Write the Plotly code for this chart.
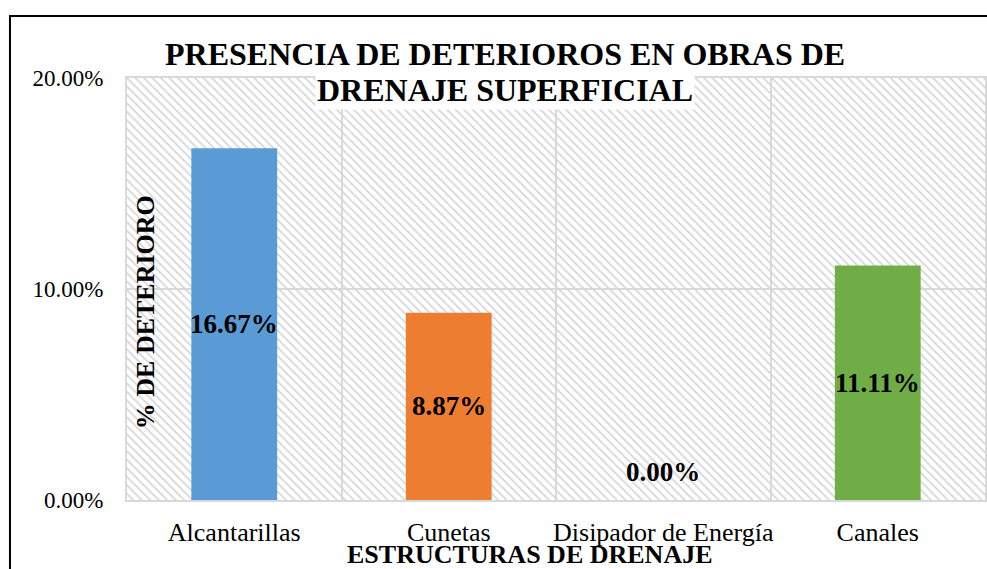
import plotly.graph_objects as go

# ---- data ----
categories = ["Alcantarillas", "Cunetas", "Disipador de Energía", "Canales"]
values = [0.1667, 0.0887, 0.0, 0.1111]
bar_colors = ["#5B9BD5", "#ED7D31", "#A5A5A5", "#70AD47"]
y_max = 0.20
title_lines = ["PRESENCIA DE DETERIOROS EN OBRAS DE", "DRENAJE SUPERFICIAL"]
x_title = "ESTRUCTURAS DE DRENAJE"
y_title = "% DE DETERIORO"

FONT = "Liberation Serif, Times New Roman, serif"
GRID = "#d9d9d9"

fig = go.Figure()

# hatched plot-area background
fig.add_trace(go.Bar(
    x=categories, y=[y_max] * len(categories), width=1.0,
    marker=dict(color="rgba(0,0,0,0)", line=dict(width=0),
                pattern=dict(shape="\\", fgcolor="#d6d6d6", bgcolor="rgba(0,0,0,0)",
                             size=6, solidity=0.3, fillmode="replace")),
    hoverinfo="skip", showlegend=False,
))

# data bars
fig.add_trace(go.Bar(
    x=categories, y=values, width=0.4,
    marker=dict(color=bar_colors, line=dict(width=0)),
    hoverinfo="skip", showlegend=False,
))

# data labels
for c, v in zip(categories, values):
    if v > 0:
        fig.add_annotation(x=c, y=v / 2, text=f"<b>{v:.2%}</b>", showarrow=False,
                           xref="x", yref="y", yanchor="middle",
                           font=dict(family=FONT, size=27, color="black"))
    else:
        fig.add_annotation(x=c, y=v, text=f"<b>{v:.2%}</b>", showarrow=False,
                           xref="x", yref="y", yanchor="bottom", yshift=11,
                           font=dict(family=FONT, size=27, color="black"))

# title lines
fig.add_annotation(xref="paper", yref="paper", x=0.4406, y=1.057, text=f"<b>{title_lines[0]}</b>",
                   showarrow=False, xanchor="center", yanchor="middle",
                   font=dict(family=FONT, size=32, color="black"))
fig.add_annotation(xref="paper", yref="paper", x=0.4406, y=0.972, text=f"<b>{title_lines[1]}</b>",
                   showarrow=False, xanchor="center", yanchor="middle", bgcolor="white",
                   font=dict(family=FONT, size=32, color="black"))

# axis titles
fig.add_annotation(xref="paper", yref="paper", x=0.4697, y=-0.128, text=f"<b>{x_title}</b>",
                   showarrow=False, xanchor="center", yanchor="middle",
                   font=dict(family=FONT, size=26, color="black"))
fig.add_annotation(xref="paper", yref="paper", x=0.021, y=0.445, text=f"<b>{y_title}</b>",
                   showarrow=False, xanchor="center", yanchor="middle", textangle=-90,
                   font=dict(family=FONT, size=26, color="black"))

# outer frame
fig.add_shape(type="rect", xref="paper", yref="paper",
              x0=-0.1364, x1=1.2, y0=-0.4, y1=1.1469,
              line=dict(color="black", width=2), fillcolor="rgba(0,0,0,0)", layer="above")

fig.update_layout(
    width=987, height=569,
    margin=dict(l=127, r=2, t=78, b=69, autoexpand=False),
    paper_bgcolor="white", plot_bgcolor="white",
    barmode="overlay",
    showlegend=False,
    font=dict(family=FONT, color="black"),
)
fig.update_xaxes(
    type="category", range=[-0.5, 3.5], tickson="boundaries",
    showgrid=True, gridcolor=GRID, gridwidth=2,
    showline=True, linecolor=GRID, linewidth=2, mirror=True,
    ticks="", ticklabelstandoff=8, tickangle=0, automargin=False,
    tickfont=dict(family=FONT, size=26, color="black"),
)
fig.update_yaxes(
    range=[0, y_max], dtick=0.1, tickformat=".2%",
    showgrid=True, gridcolor=GRID, gridwidth=2,
    showline=True, linecolor=GRID, linewidth=2, mirror=True,
    zeroline=False, automargin=False,
    ticks="", ticklabelstandoff=17,
    tickfont=dict(family=FONT, size=23, color="black"),
)

fig.write_html(
    "out.html",
    config={"displayModeBar": False},
    post_script=(
        "document.body.style.margin='0';"
        "document.body.style.overflow='hidden';"
        "document.documentElement.style.overflow='hidden';"
    ),
)
